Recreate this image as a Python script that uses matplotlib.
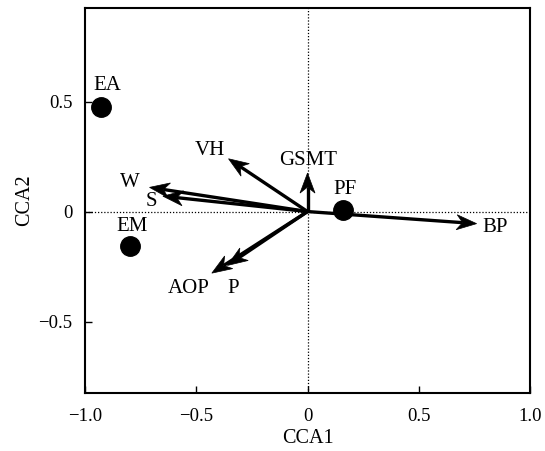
import numpy as np
import matplotlib
matplotlib.use("Agg")
import matplotlib.pyplot as plt
from matplotlib.patches import Polygon
from matplotlib.transforms import IdentityTransform

plt.rcParams['font.family'] = ['Liberation Serif', 'DejaVu Serif']
plt.rcParams['font.size'] = 13.5

# Sites (points)
site_names = ["EA", "EM", "PF"]
site_x = [-0.93, -0.80, 0.16]
site_y = [0.475, -0.156, 0.005]

# Environmental vectors (arrows)
env_names = ["BP", "W", "S", "VH", "GSMT", "AOP", "P"]
env_x = [0.76, -0.71, -0.65, -0.355, 0.0, -0.43, -0.36]
env_y = [-0.055, 0.11, 0.07, 0.24, 0.175, -0.28, -0.245]

# label positions for environmental variables
env_lab_x = [0.843, -0.798, -0.70, -0.438, 0.004, -0.536, -0.336]
env_lab_y = [-0.071, 0.132, 0.045, 0.277, 0.232, -0.348, -0.348]
site_lab_x = [-0.90, -0.79, 0.169]
site_lab_y = [0.575, -0.068, 0.099]

fig = plt.figure(figsize=(5.45, 4.51), dpi=100)
ax = fig.add_axes([0.156, 0.1286, 0.8165, 0.8534])
ax.set_xlim(-1.0, 1.0)
ax.set_ylim(-0.825, 0.925)

ax.axhline(0, color='black', linestyle=(0, (1, 1.5)), linewidth=0.9, zorder=1)
ax.axvline(0, color='black', linestyle=(0, (1, 1.5)), linewidth=0.9, zorder=1)

ax.plot(site_x, site_y, 'o', color='black', markersize=14, zorder=3)

fig.canvas.draw()
L, W, notch = 20.0, 7.5, 0.7
o = ax.transData.transform((0, 0))
for xe, ye in zip(env_x, env_y):
    t = ax.transData.transform((xe, ye))
    d = t - o
    u = d / np.hypot(*d)
    n = np.array([-u[1], u[0]])
    base = t - notch * L * u
    ax.plot([o[0], base[0]], [o[1], base[1]], color='black', linewidth=2.4,
            transform=IdentityTransform(), solid_capstyle='butt', zorder=4)
    pts = [t, t - L * u + W * n, base, t - L * u - W * n]
    ax.add_patch(Polygon(pts, closed=True, facecolor='black', edgecolor='black',
                         linewidth=0.5, transform=IdentityTransform(), zorder=5))

for name, lx, ly in zip(env_names, env_lab_x, env_lab_y):
    ax.text(lx, ly, name, ha='center', va='center', fontsize=15, zorder=6)
for name, lx, ly in zip(site_names, site_lab_x, site_lab_y):
    ax.text(lx, ly, name, ha='center', va='center', fontsize=15, zorder=6)

ax.set_xticks([-1.0, -0.5, 0, 0.5, 1.0])
ax.set_xticklabels(["\u22121.0", "\u22120.5", "0", "0.5", "1.0"])
ax.set_yticks([-0.5, 0, 0.5])
ax.set_yticklabels(["\u22120.5", "0", "0.5"])
ax.tick_params(axis='x', direction='in', length=5, width=1, pad=11)
ax.tick_params(axis='y', direction='in', length=5, width=1, pad=9)
for s in ax.spines.values():
    s.set_linewidth(1.5)
ax.set_xlabel("CCA1", fontsize=14.5, labelpad=3)
ax.set_ylabel("CCA2", fontsize=14.5, labelpad=3)

fig.savefig("out.png", dpi=100)
